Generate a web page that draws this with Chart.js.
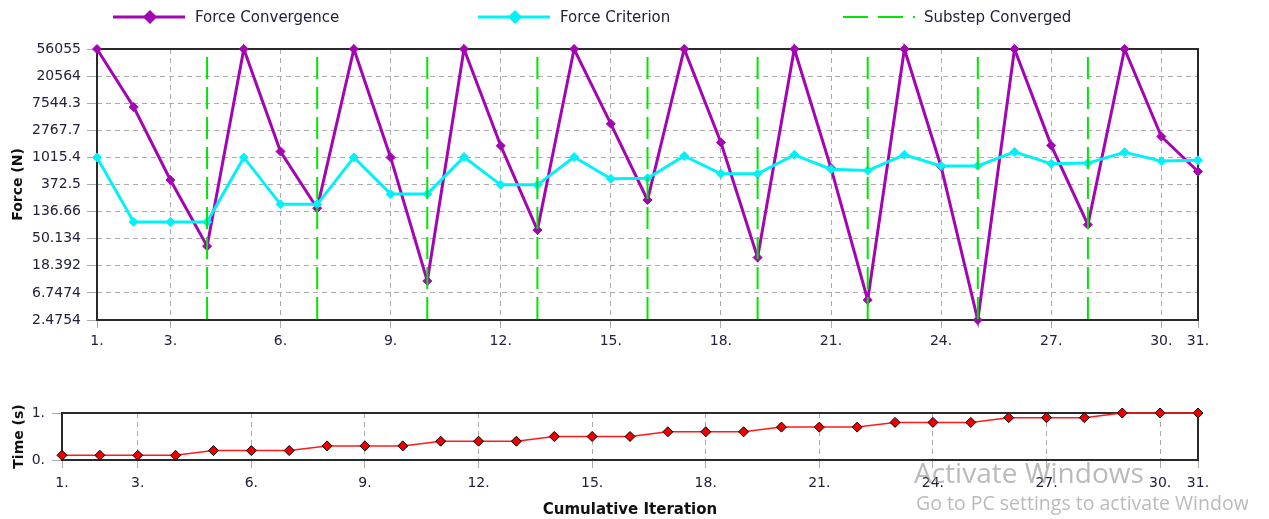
<!DOCTYPE html>
<html>
<head>
<meta charset="utf-8">
<script src="https://cdn.jsdelivr.net/npm/chart.js@4.4.1/dist/chart.umd.min.js"></script>
<style>
  html, body { margin: 0; padding: 0; background: #fff; }
  body { width: 1269px; height: 519px; position: relative; overflow: hidden; }
  #forceWrap { position: absolute; left: 0; top: 0; width: 1269px; height: 360px; }
  #timeWrap { position: absolute; left: 0; top: 390px; width: 1269px; height: 129px; }
  .wm { position: absolute; color: rgba(140, 140, 140, 0.6); font-family: "Open Sans", sans-serif; white-space: nowrap; overflow: hidden; }
</style>
</head>
<body>
<div id="forceWrap"><canvas id="forceChart"></canvas></div>
<div id="timeWrap"><canvas id="timeChart"></canvas></div>
<div class="wm" style="left:914px; top:453px; font-size:28px;">Activate Windows</div>
<div class="wm" style="left:916px; top:489px; font-size:19.5px; width:332px;">Go to PC settings to activate Windows</div>
<script>
// values
const iterations = Array.from({ length: 31 }, (_, i) => i + 1)
const forceConvergence = [
  56055, 6550, 440, 38, 56055, 1265, 155, 56055, 1015, 10.5,
  56055, 1565, 69, 56055, 3520, 210, 56055, 1765, 25, 56055,
  683, 5.2, 56055, 720, 2.4754, 56055, 1583, 84, 56055, 2200, 603
]
const forceCriterion = [
  1015, 93, 93, 93, 1015, 179, 179, 1015, 263, 263,
  1030, 368, 368, 1030, 459, 470, 1073, 554, 554, 1118,
  656, 624, 1118, 741, 741, 1246, 801, 822, 1230, 885, 915
]
const substepConverged = [4, 7, 10, 13, 16, 19, 22, 25, 28]
const timeValues = [
  0.1, 0.1, 0.1, 0.1, 0.2, 0.2, 0.2, 0.3, 0.3, 0.3,
  0.4, 0.4, 0.4, 0.5, 0.5, 0.5, 0.6, 0.6, 0.6, 0.7,
  0.7, 0.7, 0.8, 0.8, 0.8, 0.9, 0.9, 0.9, 1.0, 1.0, 1.0
]
const forceTicks = [2.4754, 6.7474, 18.392, 50.134, 136.66, 372.5, 1015.4, 2767.7, 7544.3, 20564, 56055]
const forceTickLabels = ["2.4754", "6.7474", "18.392", "50.134", "136.66", "372.5", "1015.4", "2767.7", "7544.3", "20564", "56055"]
const iterationTicks = [1, 3, 6, 9, 12, 15, 18, 21, 24, 27, 30, 31]
const timeTicks = [0, 1]
const timeTickLabels = ["0.", "1."]

const FONT = "'DejaVu Sans', sans-serif"
const TEXT = "#22223a"
const GRID = "#ababab"
const PURPLE = "#a405b3"
const CYAN = "#00f2f8"
const GREEN = "#00e600"
const RED = "#ff1a1a"

// black box round the plot area
const frame = {
  id: "frame",
  beforeDatasetsDraw(chart) {
    const { ctx, chartArea: a } = chart
    ctx.save()
    ctx.strokeStyle = "#2a2a2a"
    ctx.lineWidth = 2
    ctx.strokeRect(a.left, a.top, a.right - a.left, a.bottom - a.top)
    ctx.restore()
  }
}

// line + marker legend like the original, above the force plot
const lineLegend = {
  id: "lineLegend",
  afterDraw(chart) {
    const { ctx } = chart
    const y = 17
    const items = [
      { x: 113, label: "Force Convergence", color: PURPLE, dash: [], marker: true },
      { x: 478, label: "Force Criterion", color: CYAN, dash: [], marker: true },
      { x: 843, label: "Substep Converged", color: GREEN, dash: [25, 10], marker: false }
    ]
    ctx.save()
    items.forEach(it => {
      ctx.beginPath()
      ctx.setLineDash(it.dash)
      ctx.strokeStyle = it.color
      ctx.lineWidth = it.marker ? 3 : 2
      ctx.moveTo(it.x, y)
      ctx.lineTo(it.x + 72, y)
      ctx.stroke()
      ctx.setLineDash([])
      if (it.marker) {
        ctx.fillStyle = it.color
        ctx.strokeStyle = it.color
        Chart.helpers.drawPoint(ctx, { pointStyle: "rectRot", radius: 5, borderWidth: 1 }, it.x + 37, y)
      }
      ctx.fillStyle = TEXT
      ctx.font = "15px " + FONT
      ctx.textBaseline = "middle"
      ctx.fillText(it.label, it.x + (it.marker ? 82 : 81), y + 1)
    })
    ctx.restore()
  }
}

const pairs = (ys) => iterations.map((x, i) => ({ x, y: ys[i] }))
const fMin = forceTicks[0]
const fMax = forceTicks[forceTicks.length - 1]
const substepLines = substepConverged.flatMap(it => [
  { x: it, y: fMax }, { x: it, y: fMin }, { x: it, y: null }
])

const iterationAxis = (height, pad) => ({
  type: "linear",
  min: 1,
  max: 31,
  afterBuildTicks: (s) => { s.ticks = iterationTicks.map(v => ({ value: v })) },
  afterFit: (s) => { s.height = height },
  ticks: { color: TEXT, font: { family: FONT, size: 14 }, padding: pad, maxRotation: 0, autoSkip: false, callback: (v) => v + "." },
  grid: { color: GRID, tickLength: 8 },
  border: { display: false, dash: [5, 4] }
})

new Chart(document.getElementById("forceChart"), {
  type: "line",
  data: {
    datasets: [
      {
        label: "Substep Converged",
        data: substepLines,
        borderColor: GREEN,
        borderWidth: 2,
        borderDash: [22, 8],
        borderDashOffset: 22,
        pointRadius: 0,
        spanGaps: false,
        order: 0
      },
      {
        label: "Force Criterion",
        data: pairs(forceCriterion),
        borderColor: CYAN,
        backgroundColor: CYAN,
        borderWidth: 3,
        pointStyle: "rectRot",
        pointRadius: 4.5,
        pointBorderWidth: 1,
        clip: false,
        order: 1
      },
      {
        label: "Force Convergence",
        data: pairs(forceConvergence),
        borderColor: PURPLE,
        backgroundColor: PURPLE,
        borderWidth: 3,
        pointStyle: "rectRot",
        pointRadius: 4.5,
        pointBorderWidth: 1,
        clip: false,
        order: 2
      }
    ]
  },
  options: {
    responsive: true,
    maintainAspectRatio: false,
    animation: false,
    layout: { padding: { top: 49, right: 71, bottom: 0, left: 0 }, autoPadding: false },
    plugins: { legend: { display: false }, tooltip: { enabled: false } },
    elements: { line: { tension: 0 } },
    scales: {
      x: iterationAxis(40, 5),
      y: {
        type: "logarithmic",
        min: fMin,
        max: fMax,
        afterBuildTicks: (s) => { s.ticks = forceTicks.map(v => ({ value: v })) },
        afterFit: (s) => { s.width = 97 },
        ticks: { color: TEXT, font: { family: FONT, size: 14 }, padding: 6, autoSkip: false, callback: (v, i) => forceTickLabels[i] },
        grid: { color: GRID, tickLength: 10 },
        border: { display: false, dash: [5, 4] },
        title: { display: true, text: "Force (N)", color: "#111", font: { family: FONT, size: 14, weight: "bold" }, padding: { top: 10, bottom: 0 } }
      }
    }
  },
  plugins: [frame, lineLegend]
})

new Chart(document.getElementById("timeChart"), {
  type: "line",
  data: {
    datasets: [
      {
        label: "Time",
        data: pairs(timeValues),
        borderColor: RED,
        backgroundColor: "#ee0000",
        borderWidth: 1.5,
        pointStyle: "rectRot",
        pointRadius: 5,
        pointBorderColor: "#000",
        pointBorderWidth: 1,
        clip: false
      }
    ]
  },
  options: {
    responsive: true,
    maintainAspectRatio: false,
    animation: false,
    layout: { padding: { top: 23, right: 71, bottom: 0, left: 0 }, autoPadding: false },
    plugins: { legend: { display: false }, tooltip: { enabled: false } },
    elements: { line: { tension: 0 } },
    scales: {
      x: Object.assign(iterationAxis(59, 7), {
        title: { display: true, text: "Cumulative Iteration", color: "#111", font: { family: FONT, size: 15, weight: "bold" }, padding: { top: 0, bottom: 0 } }
      }),
      y: {
        type: "linear",
        min: 0,
        max: 1,
        afterBuildTicks: (s) => { s.ticks = timeTicks.map(v => ({ value: v })) },
        afterFit: (s) => { s.width = 62 },
        ticks: { color: TEXT, font: { family: FONT, size: 14 }, padding: 7, callback: (v, i) => timeTickLabels[i] },
        grid: { color: GRID, tickLength: 10 },
        border: { display: false, dash: [5, 4] },
        title: { display: true, text: "Time (s)", color: "#111", font: { family: FONT, size: 14, weight: "bold" }, padding: { top: 11, bottom: 0 } }
      }
    }
  },
  plugins: [frame]
})
</script>
</body>
</html>
